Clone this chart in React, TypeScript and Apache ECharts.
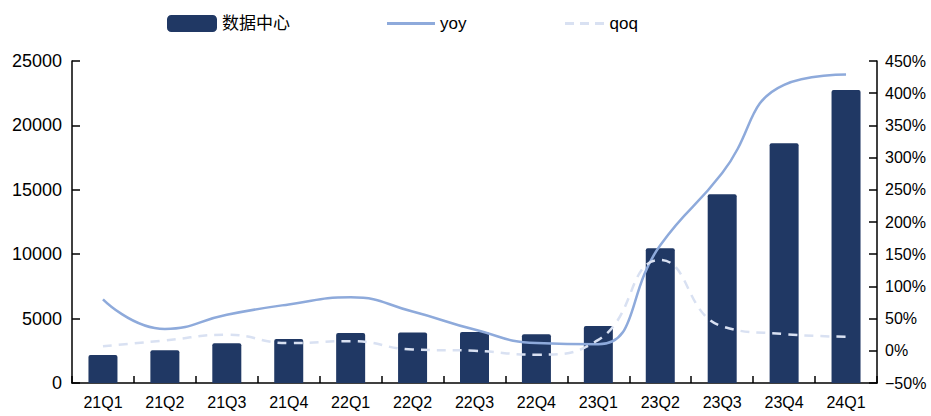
import React, { useEffect, useRef } from "react";
import * as echarts from "echarts";

const categories = ["21Q1", "21Q2", "21Q3", "21Q4", "22Q1", "22Q2", "22Q3", "22Q4", "23Q1", "23Q2", "23Q3", "23Q4", "24Q1"];
const dataCenter = [2170, 2540, 3080, 3420, 3880, 3930, 3960, 3780, 4420, 10460, 14650, 18610, 22750];
const yoy = [80, 34, 56, 72, 83, 61, 33, 12, 10, 164, 276, 413, 429];
const qoq = [7, 16, 25, 12, 15, 2, 0, -6, 17, 141, 38, 26, 22];
const leftTicks = { min: 0, max: 25000, interval: 5000 };
const rightTicks = { min: -50, max: 450, interval: 50 };

const FONT = "'Liberation Sans', Arial, 'Noto Sans CJK SC', sans-serif";

export default function App() {
  const ref = useRef<HTMLDivElement>(null);
  useEffect(() => {
    if (!ref.current) return;
    const chart = echarts.init(ref.current, null, { renderer: "svg" });
    const legendText = { fontSize: 17, color: "#000", fontFamily: FONT };
    chart.setOption({
      animation: false,
      backgroundColor: "#fff",
      legend: [
        {
          data: [{ name: "数据中心", icon: "roundRect" }],
          left: 162, top: 10, itemWidth: 50, itemHeight: 17, itemGap: 4,
          textStyle: legendText, selectedMode: false,
        },
        {
          data: [{ name: "yoy", icon: "path://M0,0h48v3h-48z" }],
          left: 382, top: 10, itemWidth: 48, itemHeight: 3,
          textStyle: legendText, selectedMode: false,
        },
        {
          data: [{ name: "qoq", icon: "path://M0,0h9v3h-9z M15,0h9v3h-9z M30,0h9v3h-9z" }],
          left: 560, top: 10, itemWidth: 40, itemHeight: 3,
          textStyle: legendText, selectedMode: false,
        },
      ],
      grid: { left: 72, right: 54, top: 61, bottom: 33, containLabel: false },
      xAxis: {
        type: "category",
        data: categories,
        boundaryGap: true,
        axisLine: { lineStyle: { color: "#000", width: 1.5 } },
        axisTick: { show: true, inside: true, length: 7, lineStyle: { color: "#000", width: 1.5 } },
        axisLabel: { color: "#000", fontSize: 16, fontFamily: FONT, margin: 11, interval: 0 },
      },
      yAxis: [
        {
          type: "value",
          min: leftTicks.min, max: leftTicks.max, interval: leftTicks.interval,
          axisLine: { show: true, lineStyle: { color: "#000", width: 1.5 } },
          axisTick: { show: true, inside: true, length: 8, lineStyle: { color: "#000", width: 1.5 } },
          axisLabel: { color: "#000", fontSize: 18, fontFamily: FONT, margin: 10, formatter: (v: number) => String(v) },
          splitLine: { show: false },
        },
        {
          type: "value",
          min: rightTicks.min, max: rightTicks.max, interval: rightTicks.interval,
          position: "right",
          axisLine: { show: true, lineStyle: { color: "#000", width: 1.5 } },
          axisTick: { show: true, inside: true, length: 8, lineStyle: { color: "#000", width: 1.5 } },
          axisLabel: {
            color: "#000", fontSize: 16, fontFamily: FONT, margin: 8,
            formatter: (v: number) => (v < 0 ? "\u2212" + Math.abs(v) : v) + "%",
          },
          splitLine: { show: false },
        },
      ],
      series: [
        {
          name: "数据中心",
          type: "bar",
          data: dataCenter,
          barWidth: 29,
          itemStyle: { color: "#203864", borderRadius: [2, 2, 0, 0] },
          yAxisIndex: 0,
        },
        {
          name: "yoy",
          type: "line",
          yAxisIndex: 1,
          data: yoy,
          smooth: 0.5,
          symbol: "none",
          lineStyle: { color: "#8eaadb", width: 2.5 },
          itemStyle: { color: "#8eaadb" },
        },
        {
          name: "qoq",
          type: "line",
          yAxisIndex: 1,
          data: qoq,
          smooth: 0.5,
          symbol: "none",
          lineStyle: { color: "#d9e1f2", width: 2.5, type: [9, 7] },
          itemStyle: { color: "#d9e1f2" },
        },
      ],
    });
    return () => chart.dispose();
  }, []);
  return <div ref={ref} style={{ width: 931, height: 416, position: "absolute", left: 0, top: 0 }} />;
}
